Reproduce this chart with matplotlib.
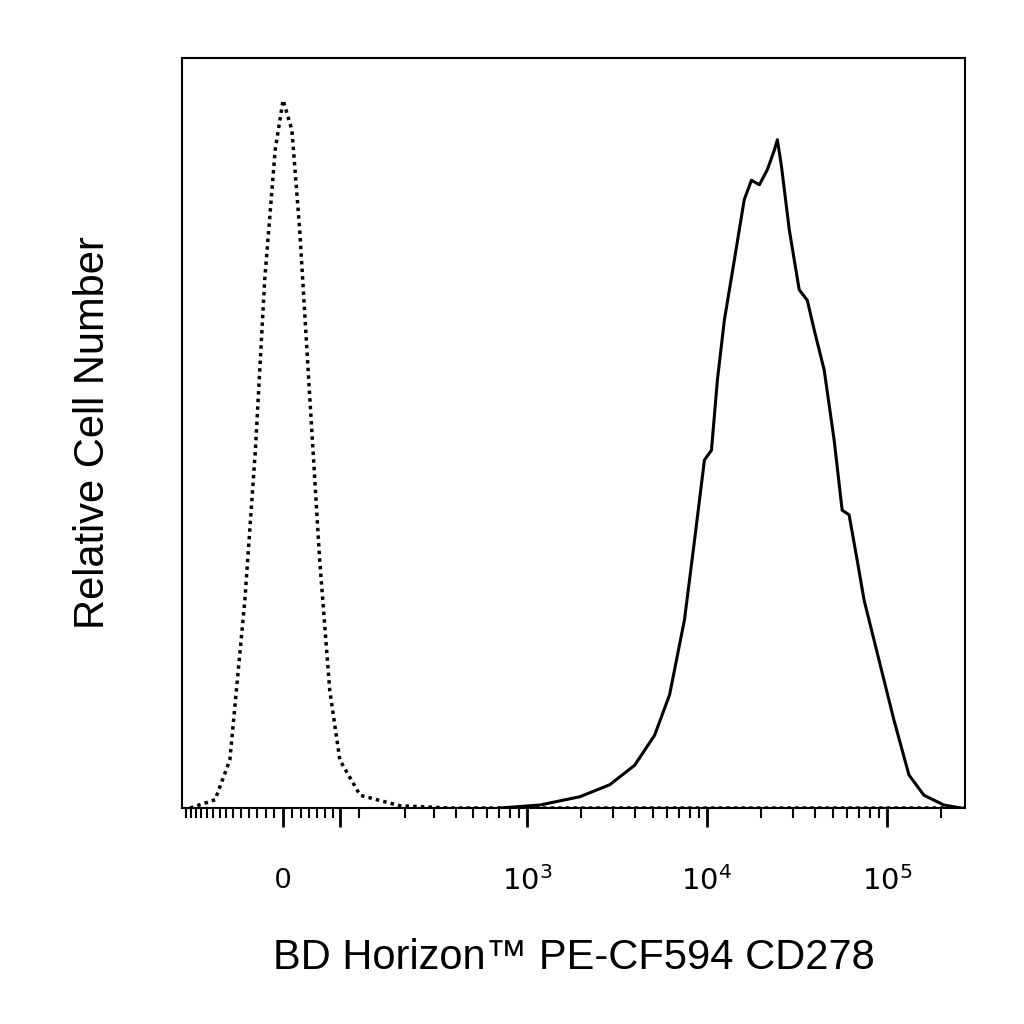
import numpy as np
import matplotlib
matplotlib.use("Agg")
import matplotlib.pyplot as plt
from matplotlib.ticker import FixedLocator, NullFormatter

plt.rcParams['font.family'] = ['Liberation Sans', 'DejaVu Sans']

iso_x = [-132, -87, -65, -45, -32, -21, -9, 0, 10, 19, 31, 43, 56, 70, 102, 187, 369, 1000, 10000, 270000]
iso_y = [0, 1.1, 6.4, 27.7, 47.7, 70.4, 87.7, 94.4, 90.4, 77, 54.4, 33, 15.7, 6.4, 1.7, 0.3, 0, 0, 0, 0]

cd_x = [708, 1180, 1966, 2884, 3965, 5120, 6200, 7500, 8530, 9680, 10590, 11430, 12500, 14200, 16100,
        17660, 19540, 21630, 23660, 24600, 25880, 28650, 32520, 36060, 39440, 44770, 50820, 56330,
        61540, 68200, 74600, 90300, 109300, 132400, 160300, 206900, 257000]
cd_y = [0, 0.4, 1.5, 3.1, 5.7, 9.7, 15.1, 25.1, 35.7, 46.4, 47.7, 57.1, 65.1, 73.1, 81.1,
        83.7, 83.1, 85.1, 87.7, 89.1, 85.7, 77.1, 69.1, 67.7, 63.7, 58.4, 49.1, 39.7,
        39.1, 33.1, 27.7, 19.7, 11.7, 4.4, 1.7, 0.4, 0]

C = 88.5
fig = plt.figure(figsize=(10.24, 10.24), dpi=100)
ax = fig.add_axes([182/1024, 1-808/1024, 783/1024, 750/1024])
ax.set_xscale('function', functions=(lambda x: np.arcsinh(np.asarray(x)/C),
                                     lambda y: C*np.sinh(np.asarray(y))))
ax.plot(iso_x, iso_y, color='black', linestyle=(0, (1, 1.2)), linewidth=2.5)
ax.plot(cd_x, cd_y, color='black', linewidth=2.2)
ax.set_xlim(-149, 271000)
ax.set_ylim(0, 100)
ax.set_yticks([])

major = [0, 70, 1000, 10000, 100000]
minor = list(range(-140, 0, 10)) + list(range(10, 70, 10)) + [100] + \
        [m*10**e for e in (2, 3, 4) for m in range(2, 10)] + [200000]
ax.xaxis.set_major_locator(FixedLocator(major))
ax.xaxis.set_minor_locator(FixedLocator(minor))
ax.set_xticklabels(['0', '', r'$10^3$', r'$10^4$', r'$10^5$'], fontsize=21)
ax.xaxis.set_minor_formatter(NullFormatter())
ax.tick_params(axis='x', which='major', direction='out', length=14, width=2, pad=28)
ax.tick_params(axis='x', which='minor', direction='out', length=7, width=1.5)
for s in ax.spines.values():
    s.set_linewidth(1.5)
ax.set_xlabel('BD Horizon™ PE-CF594 CD278', fontsize=30, labelpad=30)
ax.set_ylabel('Relative Cell Number', fontsize=30, labelpad=95-45)
fig.savefig('out.png', dpi=100)
